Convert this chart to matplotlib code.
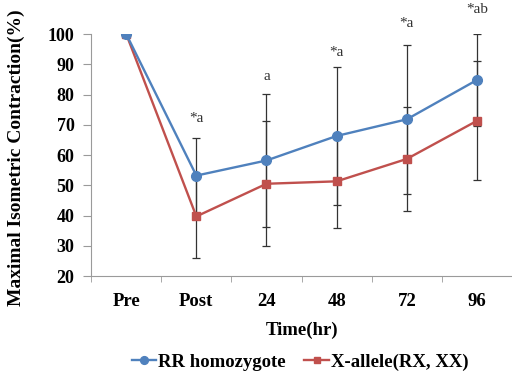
import matplotlib
matplotlib.use('Agg')
import matplotlib.pyplot as plt

# data
times = ['Pre', 'Post', '24', '48', '72', '96']
rr_mean = [100, 53.2, 58.2, 66.3, 71.8, 84.8]
rr_sd = [0, 12.3, 22.1, 22.9, 24.6, 15.1]
x_mean = [100, 39.7, 50.5, 51.3, 58.7, 71.3]
x_sd = [0, 13.7, 20.6, 15.4, 17.2, 19.7]
marks = ['', '*a', 'a', '*a', '*a', '*ab']
mark_y = [0, 72, 86, 94, 103.5, 108]

plt.rcParams['font.family'] = ['Liberation Serif', 'DejaVu Serif']
plt.rcParams['font.weight'] = 'bold'

blue = '#4F81BD'
red = '#C0504D'
grey = '#9a9a9a'

fig = plt.figure(figsize=(5.12, 3.74), dpi=100)
ax = fig.add_axes([0.178, 0.262, 0.822, 0.647])

xs = list(range(len(times)))

ax.errorbar(xs, rr_mean, yerr=rr_sd, fmt='none', ecolor='#333333',
            elinewidth=0.9, capsize=3, capthick=0.9, zorder=2)
ax.errorbar(xs, x_mean, yerr=x_sd, fmt='none', ecolor='#333333',
            elinewidth=0.9, capsize=3, capthick=0.9, zorder=2)

ax.plot(xs, rr_mean, color=blue, lw=1.7, marker='o', ms=7,
        label='RR homozygote', zorder=4)
ax.plot(xs, x_mean, color=red, lw=1.7, marker='s', ms=6,
        label='X-allele(RX, XX)', zorder=3)

for i in range(len(times)):
    if marks[i]:
        ax.text(xs[i], mark_y[i], marks[i], ha='center', va='center',
                fontsize=11, fontweight='normal', color='#333333', clip_on=False)

ax.set_xlim(-0.5, 5.5)
ax.set_ylim(20, 100)
ax.set_yticks(range(20, 101, 10))
ax.set_xticks(xs)
ax.set_xticklabels(times)
ax.set_xticks([i + 0.5 for i in range(-1, 6)], minor=True)
ax.tick_params(axis='x', which='major', length=0, pad=12, labelsize=13.5)
ax.tick_params(axis='x', which='minor', length=4, color=grey, direction='out')
ax.tick_params(axis='y', length=6, color=grey, labelsize=13, pad=6)

for s in ['top', 'right']:
    ax.spines[s].set_visible(False)
for s in ['left', 'bottom']:
    ax.spines[s].set_color(grey)

ax.set_ylabel('Maximal Isometric Contraction(%)', fontsize=14, fontweight='bold')
ax.yaxis.set_label_coords(-0.157, 0.488)
ax.set_xlabel('Time(hr)', fontsize=13.5, fontweight='bold')
ax.xaxis.set_label_coords(0.5, -0.188)

fig.legend(loc='center', bbox_to_anchor=(0.586, 0.032), ncol=2, frameon=False,
           fontsize=13.5, handlelength=1.3, handletextpad=0.1, columnspacing=1.0,
           markerscale=0.8)

fig.savefig('out.png', dpi=100)
